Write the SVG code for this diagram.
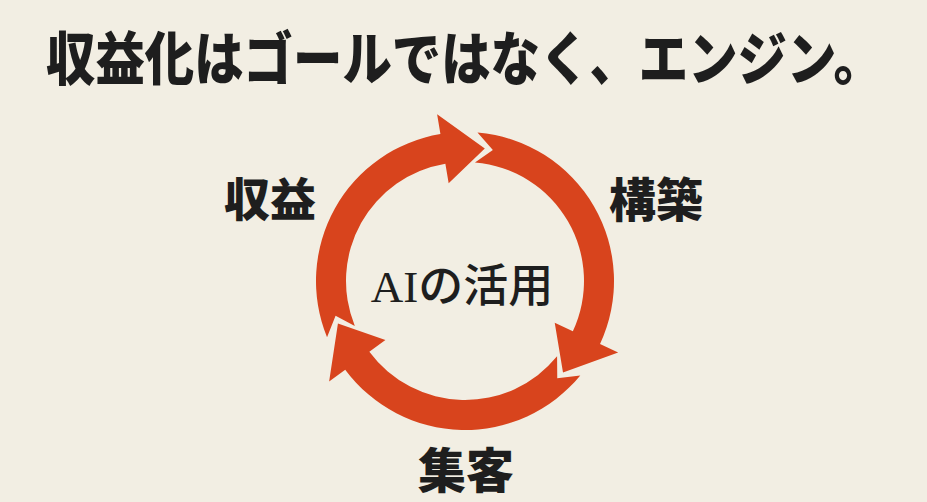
<svg xmlns="http://www.w3.org/2000/svg" width="927" height="502" viewBox="0 0 927 502">
  <style>
    .bg { fill: #F2EEE3; }
    .arrow { fill: #D8441D; }
    .title { font-family: "Noto Sans CJK JP", "Noto Sans", sans-serif; font-weight: 900; fill: #1E1E1E; }
    .label { font-family: "Noto Sans CJK JP", "Noto Sans", sans-serif; font-weight: 900; fill: #1E1E1E; text-anchor: middle; }
    .center { font-family: "Liberation Serif", "Noto Sans CJK JP", serif; font-weight: 500; fill: #1E1E1E; text-anchor: middle; }
  </style>
  <rect class="bg" x="0" y="0" width="927" height="502"/>
  <g id="title" transform="translate(46,80) scale(0.852,1)">
    <text class="title" x="0" y="0" font-size="58">収益化はゴールではなく、エンジン。</text>
  </g>
  <g id="connectors">
    <path class="arrow" d="M327.04,337.29 A149,149 0 0 1 440.41,134.04 L437.11,114.32 L484.81,148.47 L448.66,183.36 L445.36,163.63 A119,119 0 0 0 354.82,325.96 L335.57,315.68 Z"/>
    <path class="arrow" d="M477.47,132.52 A149,149 0 0 1 600.04,343.97 L618.16,352.42 L563.01,372.39 L554.72,322.84 L572.85,331.29 A119,119 0 0 0 474.96,162.42 L492.86,149.93 Z"/>
    <path class="arrow" d="M580.30,375.38 A149,149 0 0 1 345.22,369.63 L329.14,381.52 L337.93,323.52 L385.41,339.89 L369.34,351.78 A119,119 0 0 0 557.08,356.37 L557.25,378.20 Z"/>
  </g>
  <g id="node-center">
    <text class="center" x="462" y="302" font-size="45">AIの活用</text>
  </g>
  <g id="node-shueki">
    <text class="label" x="270" y="216" font-size="46">収益</text>
  </g>
  <g id="node-kochiku">
    <text class="label" x="656" y="217" font-size="47">構築</text>
  </g>
  <g id="node-shukyaku">
    <text class="label" x="466" y="488" font-size="48">集客</text>
  </g>
</svg>
